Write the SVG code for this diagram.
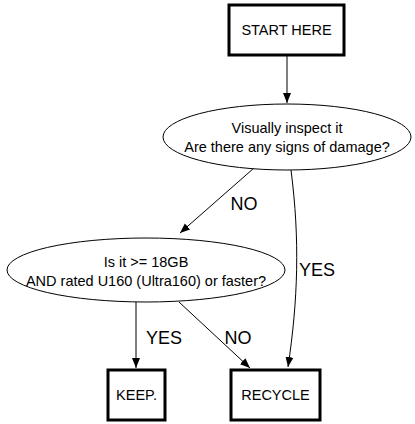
<svg xmlns="http://www.w3.org/2000/svg" width="415" height="424" viewBox="0 0 415 424">
<style>
.box{fill:#fff;stroke:#000;stroke-width:3}
.ell{fill:#fff;stroke:#000;stroke-width:1}
.t{font-family:"Liberation Sans",Arial,sans-serif;font-size:14.5px;text-anchor:middle;fill:#000}
.l{font-family:"Liberation Sans",Arial,sans-serif;font-size:18px;text-anchor:middle;fill:#000}
.e{fill:none;stroke:#000;stroke-width:1}
</style>
<defs>
<marker id="a" viewBox="0 0 10 10" refX="10" refY="5" markerWidth="10" markerHeight="10" markerUnits="userSpaceOnUse" orient="auto">
<path d="M0,1 L10,5 L0,9 Z" fill="#000"/>
</marker>
</defs>
<rect width="415" height="424" fill="#fff"/>
<g id="edges">
<path class="e" d="M287,55 L287,103" marker-end="url(#a)"/>
<path class="e" d="M254,168 L180,233" marker-end="url(#a)"/>
<path class="e" d="M291,170 C300,240 298,300 288,367" marker-end="url(#a)"/>
<path class="e" d="M136,302 L136,368" marker-end="url(#a)"/>
<path class="e" d="M179,302 L250,368" marker-end="url(#a)"/>
<text class="l" x="244" y="210">NO</text>
<text class="l" x="317" y="276">YES</text>
<text class="l" x="164" y="344">YES</text>
<text class="l" x="238" y="344">NO</text>
</g>
<g id="start">
<rect class="box" x="229" y="5" width="115" height="50"/>
<text class="t" x="286.5" y="35">START HERE</text>
</g>
<g id="inspect">
<ellipse class="ell" cx="287" cy="137" rx="124" ry="33"/>
<text class="t" x="287" y="133">Visually inspect it</text>
<text class="t" x="287" y="152">Are there any signs of damage?</text>
</g>
<g id="size">
<ellipse class="ell" cx="146" cy="270" rx="139" ry="32"/>
<text class="t" x="146" y="267">Is it &gt;= 18GB</text>
<text class="t" x="146" y="286">AND rated U160 (Ultra160) or faster?</text>
</g>
<g id="keep">
<rect class="box" x="108" y="370" width="57" height="50"/>
<text class="t" x="136.5" y="400">KEEP.</text>
</g>
<g id="recycle">
<rect class="box" x="231" y="370" width="89" height="50"/>
<text class="t" x="275.5" y="400">RECYCLE</text>
</g>
</svg>
